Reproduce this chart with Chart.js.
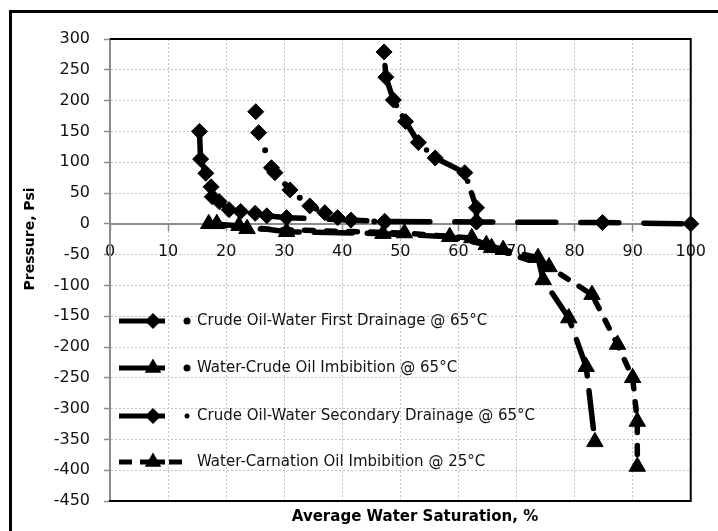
<!DOCTYPE html>
<html>
<head>
<meta charset="utf-8">
<script src="https://cdn.jsdelivr.net/npm/chart.js@4.4.1/dist/chart.umd.min.js"></script>
<style>
  html, body { margin: 0; padding: 0; background: #fff; overflow: hidden; }
  #wrap { position: relative; width: 718px; height: 531px; overflow: hidden; }
  #frame { position: absolute; left: 9px; top: 10px; width: 800px; height: 600px; border: 3px solid #000; }
  #myChart { position: absolute; left: 0; top: 0; }
</style>
</head>
<body>
<div id="wrap">
  <div id="frame"></div>
  <canvas id="myChart" width="718" height="531"></canvas>
</div>
<script>
// Series labels (legend order)
const seriesLabels = [
    'Crude Oil-Water First Drainage @ 65°C',
    'Water-Crude Oil Imbibition @ 65°C',
    'Crude Oil-Water Secondary Drainage @ 65°C',
    'Water-Carnation Oil Imbibition @ 25°C'
];

// Water saturation (%) and pressure (psi)
const firstDrainageSw = [15.4, 15.6, 16.5, 17.4, 17.6, 18.8, 20.5, 22.5, 25, 27, 30.4, 47.3, 63.1, 84.8, 100];
const firstDrainageP = [150, 105, 82, 60, 44, 36, 23, 20, 17, 13, 10, 4, 3, 2, 0];

const crudeImbibitionSw = [17, 22.2, 30.4, 47, 58.5, 64.8, 67.7, 73.7, 74.6, 79, 82, 83.5];
const crudeImbibitionP = [0, -3, -13, -16, -21, -34, -42, -55, -91, -153, -232, -354];

const secondDrainageSw = [63.1, 63.1, 61.1, 56, 53.1, 50.9, 48.8, 47.5, 47.2];
const secondDrainageP = [3, 26, 83, 107, 132, 166, 201, 238, 279];

const carnationSw = [18.4, 23.6, 50.7, 62.3, 65.7, 75.6, 83, 87.4, 90, 90.8, 90.8];
const carnationP = [0, -8, -15, -23, -39, -70, -115, -196, -250, -321, -394];

// curve without legend entry
const extraDrainageSw = [25.1, 25.6, 27.8, 28.4, 31, 34.4, 37, 39.2, 41.5, 47.3];
const extraDrainageP = [182, 148, 91, 83, 55, 29, 18, 10, 6, 3];

// Axis ranges
const xMin = 0, xMax = 100, xStep = 10;
const yMin = -450, yMax = 300, yStep = 50;

const FONT = 'DejaVu Sans';

function toPoints(xs, ys) {
    return xs.map((x, i) => ({ x: x, y: ys[i] }));
}

function makeSet(label, xs, ys, style, radius, dash, width) {
    return {
        label: label,
        data: toPoints(xs, ys),
        showLine: true,
        borderColor: '#000',
        backgroundColor: '#000',
        borderWidth: width,
        borderDash: dash,
        borderCapStyle: 'round',
        borderJoinStyle: 'round',
        pointStyle: style,
        pointRadius: radius,
        pointHoverRadius: radius,
        pointBackgroundColor: '#000',
        pointBorderColor: '#000',
        pointBorderWidth: 1,
        clip: false
    };
}

function drawMarker(g, style, x, y, r) {
    g.beginPath();
    if (style === 'rectRot') {
        g.moveTo(x - r, y); g.lineTo(x, y - r); g.lineTo(x + r, y); g.lineTo(x, y + r);
    } else {
        g.moveTo(x, y - r); g.lineTo(x + r * 0.866, y + r / 2); g.lineTo(x - r * 0.866, y + r / 2);
    }
    g.closePath();
    g.fill();
}

// Marco del área de trazado, leyenda y títulos de ejes
const decorPlugin = {
    id: 'decor',
    beforeDatasetsDraw(c) {
        const a = c.chartArea, g = c.ctx;
        g.save();
        g.strokeStyle = '#000';
        g.lineWidth = 2;
        g.beginPath();
        g.moveTo(a.left, a.top);
        g.lineTo(a.right, a.top);
        g.lineTo(a.right, a.bottom);
        g.lineTo(a.left - 1, a.bottom);
        g.stroke();
        g.restore();
    },
    afterDraw(c) {
        const g = c.ctx;
        g.save();
        g.fillStyle = '#000';
        g.font = 'bold 15px "' + FONT + '"';
        g.textAlign = 'center';
        g.textBaseline = 'middle';
        g.fillText('Average Water Saturation, %', 415, 517);
        g.translate(30, 239);
        g.rotate(-Math.PI / 2);
        g.font = 'bold 14px "' + FONT + '"';
        g.fillText('Pressure, Psi', 0, 0);
        g.restore();

        // leyenda
        const rows = [321, 368, 416, 462];
        g.save();
        g.fillStyle = '#000';
        g.strokeStyle = '#000';
        c.data.datasets.slice(0, 4).forEach((ds, i) => {
            const y = rows[i];
            g.lineWidth = 5;
            g.lineCap = 'butt';
            g.beginPath();
            if (i < 3) {
                g.moveTo(119, y); g.lineTo(165, y);
            } else {
                g.moveTo(119, y); g.lineTo(132, y);
                g.moveTo(140, y); g.lineTo(165, y);
                g.moveTo(169, y); g.lineTo(182, y);
            }
            g.stroke();
            drawMarker(g, ds.pointStyle, 153, y, ds.pointStyle === 'triangle' ? 9.5 : 8);
            if (i < 3) {
                g.beginPath();
                g.arc(187, y, i === 2 ? 2.5 : 3.5, 0, Math.PI * 2);
                g.fill();
            }
            g.font = '15px "' + FONT + '"';
            g.textAlign = 'left';
            g.textBaseline = 'middle';
            g.fillStyle = '#111';
            g.fillText(ds.label, 197, y);
            g.fillStyle = '#000';
        });
        g.restore();
    }
};

const ctx = document.getElementById('myChart').getContext('2d');
const chart = new Chart(ctx, {
    type: 'scatter',
    data: {
        datasets: [
            makeSet(seriesLabels[0], firstDrainageSw, firstDrainageP, 'rectRot', 8, [38, 25], 5.5),
            makeSet(seriesLabels[1], crudeImbibitionSw, crudeImbibitionP, 'triangle', 9.5, [38, 15], 5.5),
            makeSet(seriesLabels[2], secondDrainageSw, secondDrainageP, 'rectRot', 8, [30, 12, 0, 12], 5.5),
            makeSet(seriesLabels[3], carnationSw, carnationP, 'triangle', 9.5, [9, 13], 5.5),
            makeSet('', extraDrainageSw, extraDrainageP, 'rectRot', 8, [0, 20], 6)
        ]
    },
    options: {
        responsive: false,
        animation: false,
        layout: { padding: { left: 0, right: 22, top: 39, bottom: 30 } },
        plugins: {
            legend: { display: false },
            tooltip: { enabled: false }
        },
        scales: {
            x: {
                type: 'linear',
                position: { y: 0 },
                min: xMin,
                max: xMax,
                ticks: { stepSize: xStep, padding: 12, color: '#111', font: { family: FONT, size: 16 } },
                grid: { color: '#c2c2c2', lineWidth: 1, tickLength: 6, tickColor: '#8c8c8c', tickWidth: 1.5, tickBorderDash: [] },
                border: { color: '#8c8c8c', width: 2, dash: [2, 2] }
            },
            y: {
                type: 'linear',
                position: 'left',
                min: yMin,
                max: yMax,
                afterFit: s => { s.width = 110; },
                ticks: { stepSize: yStep, padding: 14, color: '#111', font: { family: FONT, size: 16 } },
                grid: { color: '#c2c2c2', lineWidth: 1, tickLength: 6, tickColor: '#8c8c8c', tickWidth: 1.5, tickBorderDash: [] },
                border: { color: '#8c8c8c', width: 2, dash: [2, 2] }
            }
        }
    },
    plugins: [decorPlugin]
});
</script>
</body>
</html>
